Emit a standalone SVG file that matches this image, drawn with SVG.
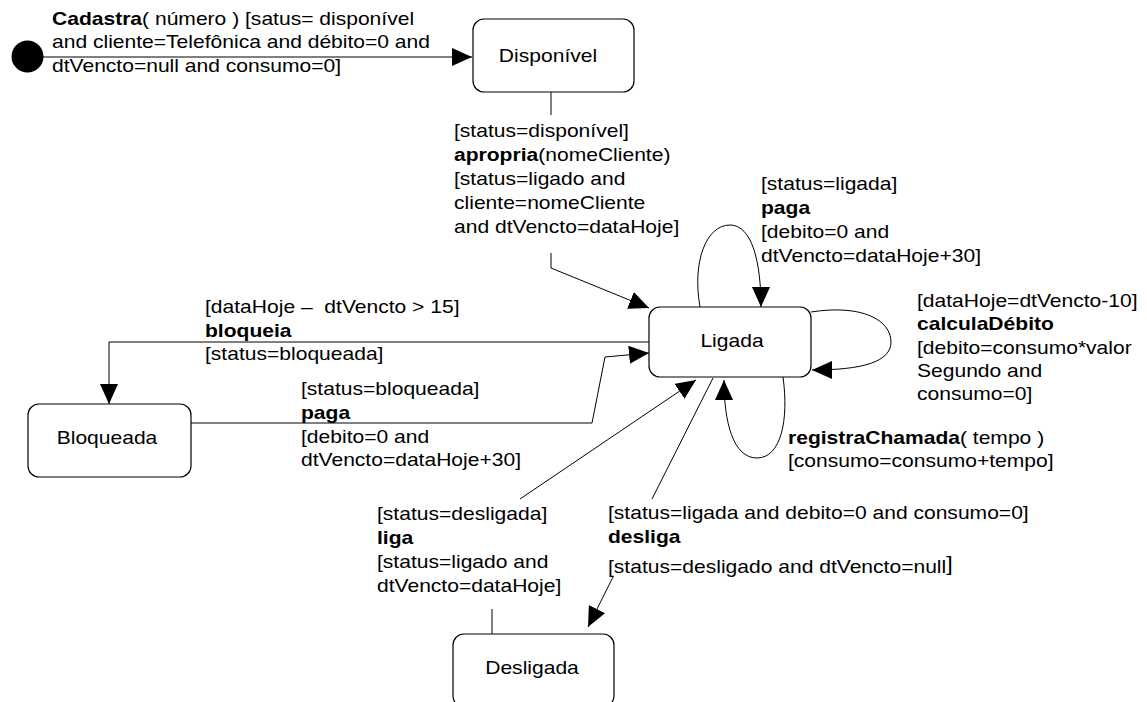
<svg xmlns="http://www.w3.org/2000/svg" width="1147" height="702" viewBox="0 0 1147 702">
  <style>
    .state { fill: #ffffff; stroke: #000000; stroke-width: 1.2; }
    .edge { fill: none; stroke: #000000; stroke-width: 1; }
    .arrow { fill: none; stroke: #000000; stroke-width: 1; marker-end: url(#head); }
    text { font-family: "Liberation Sans", Arial, sans-serif; font-size: 18px; fill: #000000; }
    .name { text-anchor: middle; }
    .b { font-weight: bold; }
  </style>
  <defs>
    <marker id="head" markerUnits="userSpaceOnUse" markerWidth="20" markerHeight="18" refX="20" refY="9" orient="auto">
      <path d="M0,0 L20,9 L0,18 z" fill="#000000"/>
    </marker>
  </defs>

  <rect width="1147" height="702" fill="#ffffff"/>

  <!-- states -->
  <g id="inicio">
    <circle cx="27.5" cy="56.5" r="16" fill="#000000"/>
  </g>
  <g id="disponivel">
    <rect class="state" x="473" y="19" width="161" height="73" rx="11"/>
    <text class="name" transform="translate(548,62) scale(1.17,1)">Disponível</text>
  </g>
  <g id="ligada">
    <rect class="state" x="649" y="307" width="162" height="70" rx="11"/>
    <text class="name" transform="translate(732,347) scale(1.17,1)">Ligada</text>
  </g>
  <g id="bloqueada">
    <rect class="state" x="28" y="404" width="163" height="73" rx="11"/>
    <text class="name" transform="translate(107,444) scale(1.17,1)">Bloqueada</text>
  </g>
  <g id="desligada">
    <rect class="state" x="453" y="634" width="161" height="73" rx="11"/>
    <text class="name" transform="translate(532,674) scale(1.17,1)">Desligada</text>
  </g>

  <!-- transitions -->
  <g id="connectors">
    <!-- cadastra -->
    <path class="arrow" d="M43,57 L472,57"/>
    <!-- apropria -->
    <path class="edge" d="M551,92 L551,115"/>
    <path class="arrow" d="M551,253 L551,268 L649,308"/>
    <!-- paga (self) -->
    <path class="arrow" d="M700,307 C692,262 706,225 730,225 C752,225 761,262 761,307"/>
    <!-- calculaDebito (self) -->
    <path class="arrow" d="M811,312 C862,304 891,320 891,342 C891,362 862,370 812,370"/>
    <!-- registraChamada (self) -->
    <path class="arrow" d="M783,377 C789,420 781,458 757,458 C733,458 724,422 724,380"/>
    <!-- bloqueia -->
    <path class="arrow" d="M649,342 L109,342 L109,404"/>
    <!-- paga from bloqueada -->
    <path class="arrow" d="M191,423 L592,423 L605,357 L649,353"/>
    <!-- liga -->
    <path class="edge" d="M492,634 L492,609"/>
    <path class="arrow" d="M520,499 L696,380"/>
    <!-- desliga -->
    <path class="edge" d="M713,378 L652,499"/>
    <path class="arrow" d="M613,577 L588,627"/>
  </g>

  <!-- transition labels -->
  <g id="labels">
    <text transform="translate(52,25) scale(1.17,1)">
      <tspan x="0" y="0"><tspan class="b">Cadastra</tspan>( número ) [satus= disponível</tspan>
      <tspan x="0" y="23">and cliente=Telefônica and débito=0 and</tspan>
      <tspan x="0" y="47">dtVencto=null and consumo=0]</tspan>
    </text>
    <text transform="translate(454,137) scale(1.17,1)">
      <tspan x="0" y="0">[status=disponível]</tspan>
      <tspan x="0" y="24"><tspan class="b">apropria</tspan>(nomeCliente)</tspan>
      <tspan x="0" y="48">[status=ligado and</tspan>
      <tspan x="0" y="72">cliente=nomeCliente</tspan>
      <tspan x="0" y="96">and dtVencto=dataHoje]</tspan>
    </text>
    <text transform="translate(761,190) scale(1.17,1)">
      <tspan x="0" y="0">[status=ligada]</tspan>
      <tspan x="0" y="24" class="b">paga</tspan>
      <tspan x="0" y="48">[debito=0 and</tspan>
      <tspan x="0" y="72">dtVencto=dataHoje+30]</tspan>
    </text>
    <text transform="translate(205,313) scale(1.17,1)">
      <tspan x="0" y="0">[dataHoje – &#160;dtVencto &gt; 15]</tspan>
      <tspan x="0" y="24" class="b">bloqueia</tspan>
      <tspan x="0" y="47">[status=bloqueada]</tspan>
    </text>
    <text transform="translate(301,395) scale(1.17,1)">
      <tspan x="0" y="0">[status=bloqueada]</tspan>
      <tspan x="0" y="24" class="b">paga</tspan>
      <tspan x="0" y="48">[debito=0 and</tspan>
      <tspan x="0" y="71">dtVencto=dataHoje+30]</tspan>
    </text>
    <text transform="translate(917,307) scale(1.17,1)">
      <tspan x="0" y="0">[dataHoje=dtVencto-10]</tspan>
      <tspan x="0" y="23" class="b">calculaDébito</tspan>
      <tspan x="0" y="47">[debito=consumo*valor</tspan>
      <tspan x="0" y="70">Segundo and</tspan>
      <tspan x="0" y="93">consumo=0]</tspan>
    </text>
    <text transform="translate(788,444) scale(1.17,1)">
      <tspan x="0" y="0"><tspan class="b">registraChamada</tspan>( tempo )</tspan>
      <tspan x="0" y="23">[consumo=consumo+tempo]</tspan>
    </text>
    <text transform="translate(377,520) scale(1.17,1)">
      <tspan x="0" y="0">[status=desligada]</tspan>
      <tspan x="0" y="24" class="b">liga</tspan>
      <tspan x="0" y="48">[status=ligado and</tspan>
      <tspan x="0" y="72">dtVencto=dataHoje]</tspan>
    </text>
    <text transform="translate(608,519) scale(1.17,1)">
      <tspan x="0" y="0">[status=ligada and debito=0 and consumo=0]</tspan>
      <tspan x="0" y="24" class="b">desliga</tspan>
      <tspan x="0" y="54">[status=desligado and dtVencto=null<tspan dy="-2" font-size="20">]</tspan></tspan>
    </text>
  </g>
</svg>
